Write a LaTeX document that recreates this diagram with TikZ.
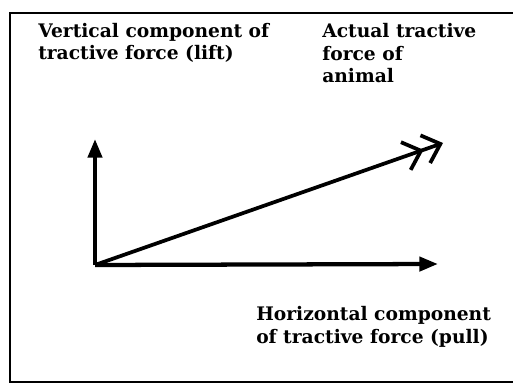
\documentclass[tikz,border=0pt]{standalone}
\usepackage{fontspec}
\setmainfont{DejaVu Serif}
\usetikzlibrary{arrows.meta}

\begin{document}
\begin{tikzpicture}[x=0.75pt,y=-0.75pt,
  every node/.style={inner sep=0pt,align=left,anchor=base west,font=\fontsize{14}{17}\selectfont\bfseries},
  axis/.style={line width=3.2pt,-{Triangle[length=14pt,width=10.5pt]}},
  force/.style={line width=2.8pt,-{Straight Barb[length=12pt,width=22pt]Straight Barb[length=12pt,width=22pt]}}]
  \useasboundingbox (0,0) rectangle (513,388);
  \fill[white] (0,0) rectangle (513,388);

  % Marco
  \draw[line width=1.8pt] (530,13) -- (10,13) -- (10,382) -- (530,382);

  % Puntos
  \coordinate (O) at (95,265);
  \coordinate (ytip) at (95,139);
  \coordinate (xtip) at (438,264);
  \coordinate (ftip) at (443,143);

  % Flechas
  \draw[axis] (O) -- (ytip);
  \draw[axis] (O) -- (xtip);
  \draw[force] (O) -- (ftip);

  % Textos (ancla en la última línea)
  \node (lift) at (38,60) {Vertical component of\\tractive force (lift)};
  \node (actual) at (322,83) {Actual tractive\\force of\\animal};
  \node (pull) at (256,343) {Horizontal component\\of tractive force (pull)};
\end{tikzpicture}
\end{document}
